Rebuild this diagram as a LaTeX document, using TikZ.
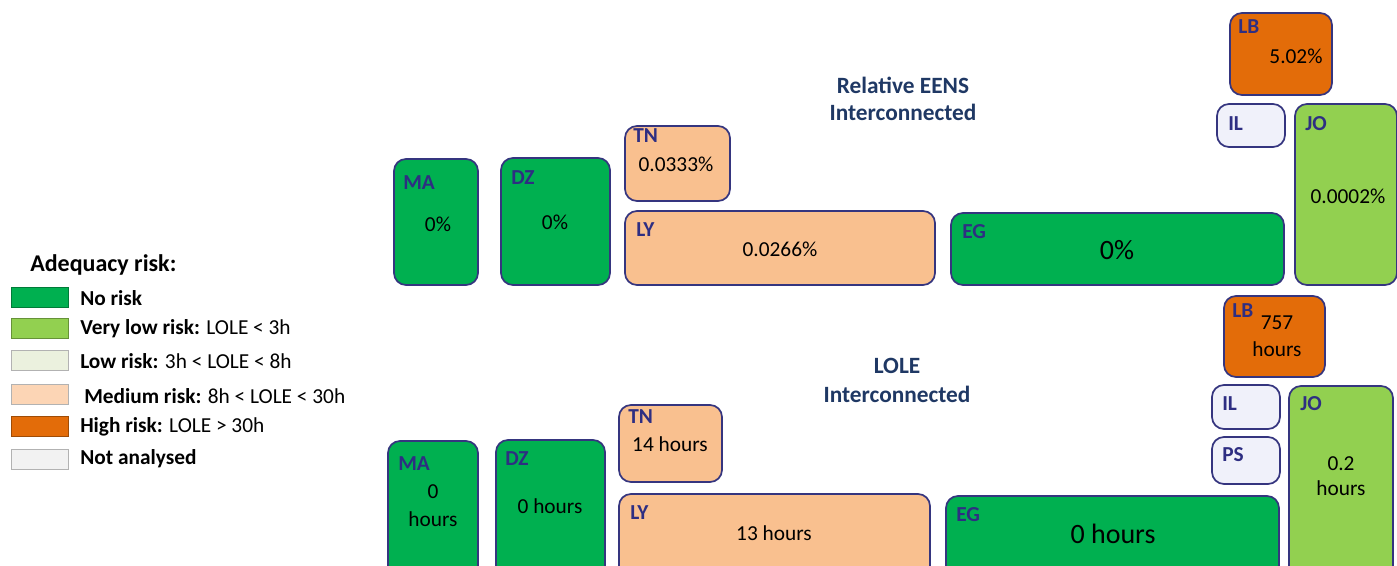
\documentclass[tikz,border=0pt]{standalone}
\usepackage{fontspec}
\setmainfont{Carlito}
\definecolor{norisk}{HTML}{00B050}
\definecolor{vlow}{HTML}{92D050}
\definecolor{low}{HTML}{EBF1DE}
\definecolor{med}{HTML}{F9C08F}
\definecolor{medleg}{HTML}{FCD5B5}
\definecolor{high}{HTML}{E36C09}
\definecolor{notan}{HTML}{F2F2F2}
\definecolor{notanbox}{HTML}{F0F1FA}
\definecolor{edge}{HTML}{35357F}
\definecolor{lblc}{HTML}{2E2E82}
\definecolor{titc}{HTML}{1F3864}
\tikzset{
 cbox/.style={draw=edge, line width=1.3pt, rounded corners=9pt, inner sep=0pt, outer sep=0pt, anchor=north west},
 lbl/.style={text=lblc, font=\bfseries\fontsize{16}{18}\selectfont, anchor=west, inner sep=0pt},
 val/.style={font=\fontsize{16}{20}\selectfont, align=center, inner sep=0pt},
 big/.style={font=\fontsize{21}{24}\selectfont, inner sep=0pt},
 ttl/.style={text=titc, font=\bfseries\fontsize{17.5}{20.5}\selectfont, inner sep=0pt},
 swatch/.style={draw=gray!60, line width=0.6pt, inner sep=0pt, outer sep=0pt, minimum width=57*0.75pt, minimum height=20*0.75pt, anchor=north west},
 legtxt/.style={font=\fontsize{16}{18}\selectfont, anchor=west, inner sep=0pt},
}
\newcommand\cb[6]{\node[cbox, fill=#6, minimum width={(#4-#2)*0.75pt}, minimum height={(#5-#3)*0.75pt}] (#1) at (#2,#3) {};}
\begin{document}
\begin{tikzpicture}[x=0.75pt,y=-0.75pt]
\useasboundingbox (0,0) rectangle (1397,566);
\clip (0,0) rectangle (1397,566);
% ---------- legend ----------
\node[font=\bfseries\fontsize{18}{20}\selectfont, anchor=west, inner sep=0pt] (legtitle) at (30,265) {Adequacy risk:};
\node[swatch, fill=norisk, draw=norisk!70!black] (s1) at (11,287) {};
\node[swatch, fill=vlow, draw=vlow!70!black] (s2) at (11,318) {};
\node[swatch, fill=low] (s3) at (11,350) {};
\node[swatch, fill=medleg] (s4) at (11,384) {};
\node[swatch, fill=high, draw=high!70!black] (s5) at (11,416) {};
\node[swatch, fill=notan] (s6) at (11,449) {};
\node[legtxt] (t1) at (80,298) {\textbf{No risk}};
\node[legtxt] (t2) at (80,329) {\textbf{Very low risk:} LOLE < 3h};
\node[legtxt] (t3) at (80,361) {\textbf{Low risk:} 3h < LOLE < 8h};
\node[legtxt] (t4) at (84,396) {\textbf{Medium risk:} 8h < LOLE < 30h};
\node[legtxt] (t5) at (80,427) {\textbf{High risk:} LOLE > 30h};
\node[legtxt] (t6) at (80,459) {\textbf{Not analysed}};
% ---------- top: Relative EENS ----------
\node[ttl] (title1a) at (903,85) {Relative EENS};
\node[ttl] (title1b) at (903,112) {Interconnected};
\cb{MAa}{394}{159}{478}{285}{norisk}
\cb{DZa}{501}{158}{610}{285}{norisk}
\cb{TNa}{625}{126}{730}{201}{med}
\cb{LYa}{625}{211}{935}{285}{med}
\cb{EGa}{951}{213}{1284}{285}{norisk}
\cb{LBa}{1230}{13}{1332}{95}{high}
\cb{ILa}{1217}{104}{1285}{147}{notanbox}
\cb{JOa}{1295}{104}{1397}{285}{vlow}
\node[lbl] (MAal) at (403,183) {MA};
\node[lbl] (DZal) at (511,178) {DZ};
\node[lbl] (TNal) at (633,136) {TN};
\node[lbl] (LYal) at (636,230) {LY};
\node[lbl] (EGal) at (962,232) {EG};
\node[lbl] (LBal) at (1238,27) {LB};
\node[lbl] (ILal) at (1228,124) {IL};
\node[lbl] (JOal) at (1305,124) {JO};
\node[val] (MAav) at (438,224) {0\%};
\node[val] (DZav) at (555,222) {0\%};
\node[val] (TNav) at (676,164) {0.0333\%};
\node[val] (LYav) at (780,249) {0.0266\%};
\node[big] (EGav) at (1117,250) {0\%};
\node[val] (LBav) at (1296,56) {5.02\%};
\node[val] (JOav) at (1348,196) {0.0002\%};
% ---------- bottom: LOLE ----------
\node[ttl] (title2a) at (897,366) {LOLE};
\node[ttl] (title2b) at (897,394) {Interconnected};
\cb{MAb}{388}{441}{478}{580}{norisk}
\cb{DZb}{496}{440}{605}{580}{norisk}
\cb{TNb}{619}{405}{722}{482}{med}
\cb{LYb}{619}{494}{930}{580}{med}
\cb{EGb}{946}{496}{1279}{580}{norisk}
\cb{LBb}{1224}{296}{1325}{377}{high}
\cb{ILb}{1212}{385}{1280}{429}{notanbox}
\cb{PSb}{1212}{437}{1280}{484}{notanbox}
\cb{JOb}{1289}{386}{1393}{580}{vlow}
\node[lbl] (MAbl) at (398,464) {MA};
\node[lbl] (DZbl) at (505,459) {DZ};
\node[lbl] (TNbl) at (628,417) {TN};
\node[lbl] (LYbl) at (630,513) {LY};
\node[lbl] (EGbl) at (956,515) {EG};
\node[lbl] (LBbl) at (1232,311) {LB};
\node[lbl] (ILbl) at (1222,404) {IL};
\node[lbl] (PSbl) at (1222,455) {PS};
\node[lbl] (JObl) at (1300,404) {JO};
\node[val, font=\fontsize{16}{21}\selectfont] (MAbv) at (433,506) {0\\hours};
\node[val] (DZbv) at (550,506) {0 hours};
\node[val] (TNbv) at (670,444) {14 hours};
\node[val] (LYbv) at (774,533) {13 hours};
\node[big] (EGbv) at (1113,534) {0 hours};
\node[val] (LBbv) at (1277,336) {757\\hours};
\node[val, font=\fontsize{16}{19}\selectfont] (JObv) at (1341,476) {0.2\\hours};
\end{tikzpicture}
\end{document}
